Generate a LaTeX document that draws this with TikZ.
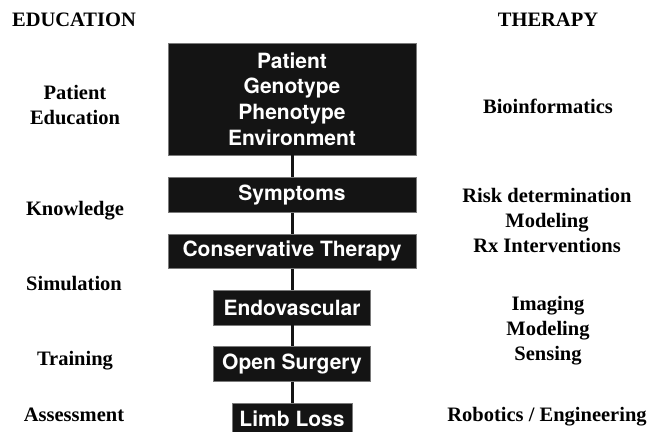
\documentclass[tikz,border=0pt]{standalone}
\usepackage{fontspec}
\setmainfont{Liberation Serif}
\newfontfamily\boxfont{TeX Gyre Heros}
\usepackage {tikz}
\usetikzlibrary{positioning}

\definecolor{stagefill}{HTML}{141414}
\definecolor{stageedge}{HTML}{7A7A7A}

\begin{document}
\begin{tikzpicture} [x = 1pt, y = -1pt,
    stage/.style = {draw = stageedge, line width = 0.8pt, fill = stagefill,
        text = white, font = \boxfont\bfseries\fontsize{21}{25.8}\selectfont,
        align = center, inner sep = 0pt, minimum height = 34.5pt},
    side/.style = {font = \bfseries\fontsize{20.5}{25}\selectfont,
        align = center, inner sep = 0pt},
    link/.style = {line width = 3pt, draw = stagefill}]

\useasboundingbox (0,0) rectangle (650,431);

% stages
\node (genotype) [stage, minimum width = 248pt, minimum height = 112pt]
    at (292,99) {Patient\\Genotype\\Phenotype\\Environment};
\node (symptoms) [stage, minimum width = 248pt, below = 22pt of genotype] {Symptoms};
\node (conservative) [stage, minimum width = 248pt, below = 21pt of symptoms] {Conservative Therapy};
\node (endovascular) [stage, minimum width = 157pt, below = 21pt of conservative] {Endovascular};
\node (opensurgery) [stage, minimum width = 157pt, below = 21pt of endovascular] {Open Surgery};
\node (limbloss) [stage, minimum width = 120pt, minimum height = 31.5pt,
    below = 21pt of opensurgery] {Limb Loss};

% links
\draw [link] (genotype.south) -- (symptoms.north);
\draw [link] (symptoms.south) -- (conservative.north);
\draw [link] (conservative.south) -- (endovascular.north);
\draw [link] (endovascular.south) -- (opensurgery.north);
\draw [link] (opensurgery.south) -- (limbloss.north);

% education column
\node (education) [side, anchor = base] at (74,27) {EDUCATION};
\node (patientedu) [side] at (75,105.5) {Patient\\Education};
\node (knowledge) [side, anchor = base] at (75,215) {Knowledge};
\node (simulation) [side, anchor = base] at (74,290) {Simulation};
\node (training) [side, anchor = base] at (75,365) {Training};
\node (assessment) [side, anchor = base] at (74,421.5) {Assessment};

% therapy column
\node (therapy) [side, anchor = base] at (548,27) {THERAPY};
\node (bioinf) [side, anchor = base] at (548,113) {Bioinformatics};
\node (risk) [side] at (547,220.7) {Risk determination\\Modeling\\Rx Interventions};
\node (imaging) [side] at (548,330.7) {Imaging\\Modeling\\Sensing};
\node (robotics) [side, anchor = base] at (547,421.5) {Robotics / Engineering};

\end{tikzpicture}
\end{document}
